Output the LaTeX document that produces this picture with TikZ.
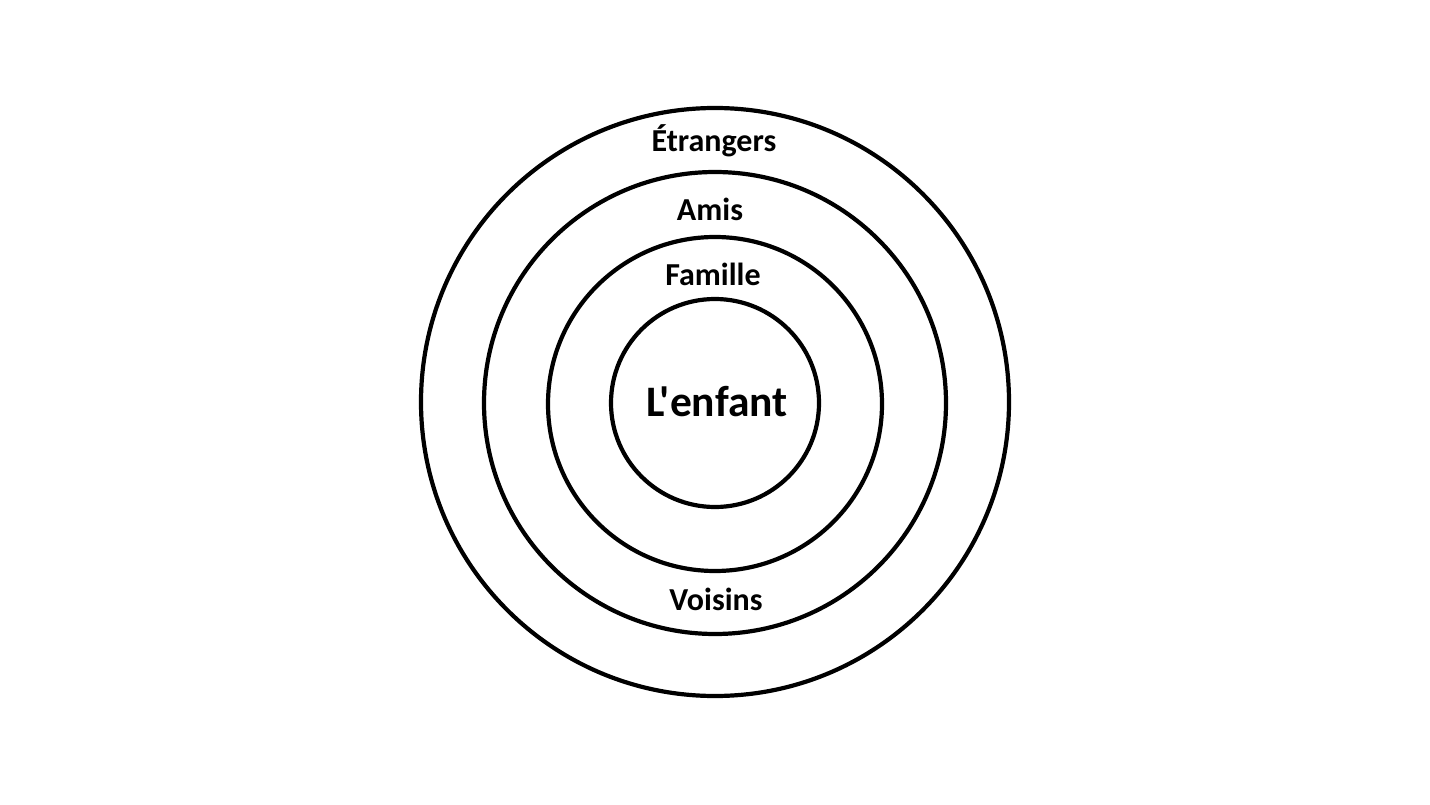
\documentclass[tikz,border=0pt]{standalone}
\usepackage{fontspec}
\setmainfont{Carlito}[Ligatures=TeXOff]
\begin{document}
\begin{tikzpicture}[x=1pt,y=-1pt,
  ring/.style={draw=black,line width=4.2pt,circle,inner sep=0pt,minimum size=#1},
  lbl/.style={font=\bfseries\fontsize{32}{36}\selectfont,anchor=base,inner sep=0pt},
  big/.style={font=\bfseries\fontsize{43.5}{48}\selectfont,anchor=base,inner sep=0pt}]
\useasboundingbox[fill=white] (0,0) rectangle (1430,805);
\node[ring=588pt] (r4) at (715,402) {};
\node[ring=462pt] (r3) at (715,403) {};
\node[ring=334pt] (r2) at (715,404) {};
\node[ring=208pt] (r1) at (715,403) {};
\node[lbl] (etr) at (714,152) {Étrangers};
\node[lbl] (ami) at (710,221) {Amis};
\node[lbl] (fam) at (713,285) {Famille};
\node[big] (enf) at (717,416) {L'enfant};
\node[lbl] (voi) at (716,610) {Voisins};
\end{tikzpicture}
\end{document}
